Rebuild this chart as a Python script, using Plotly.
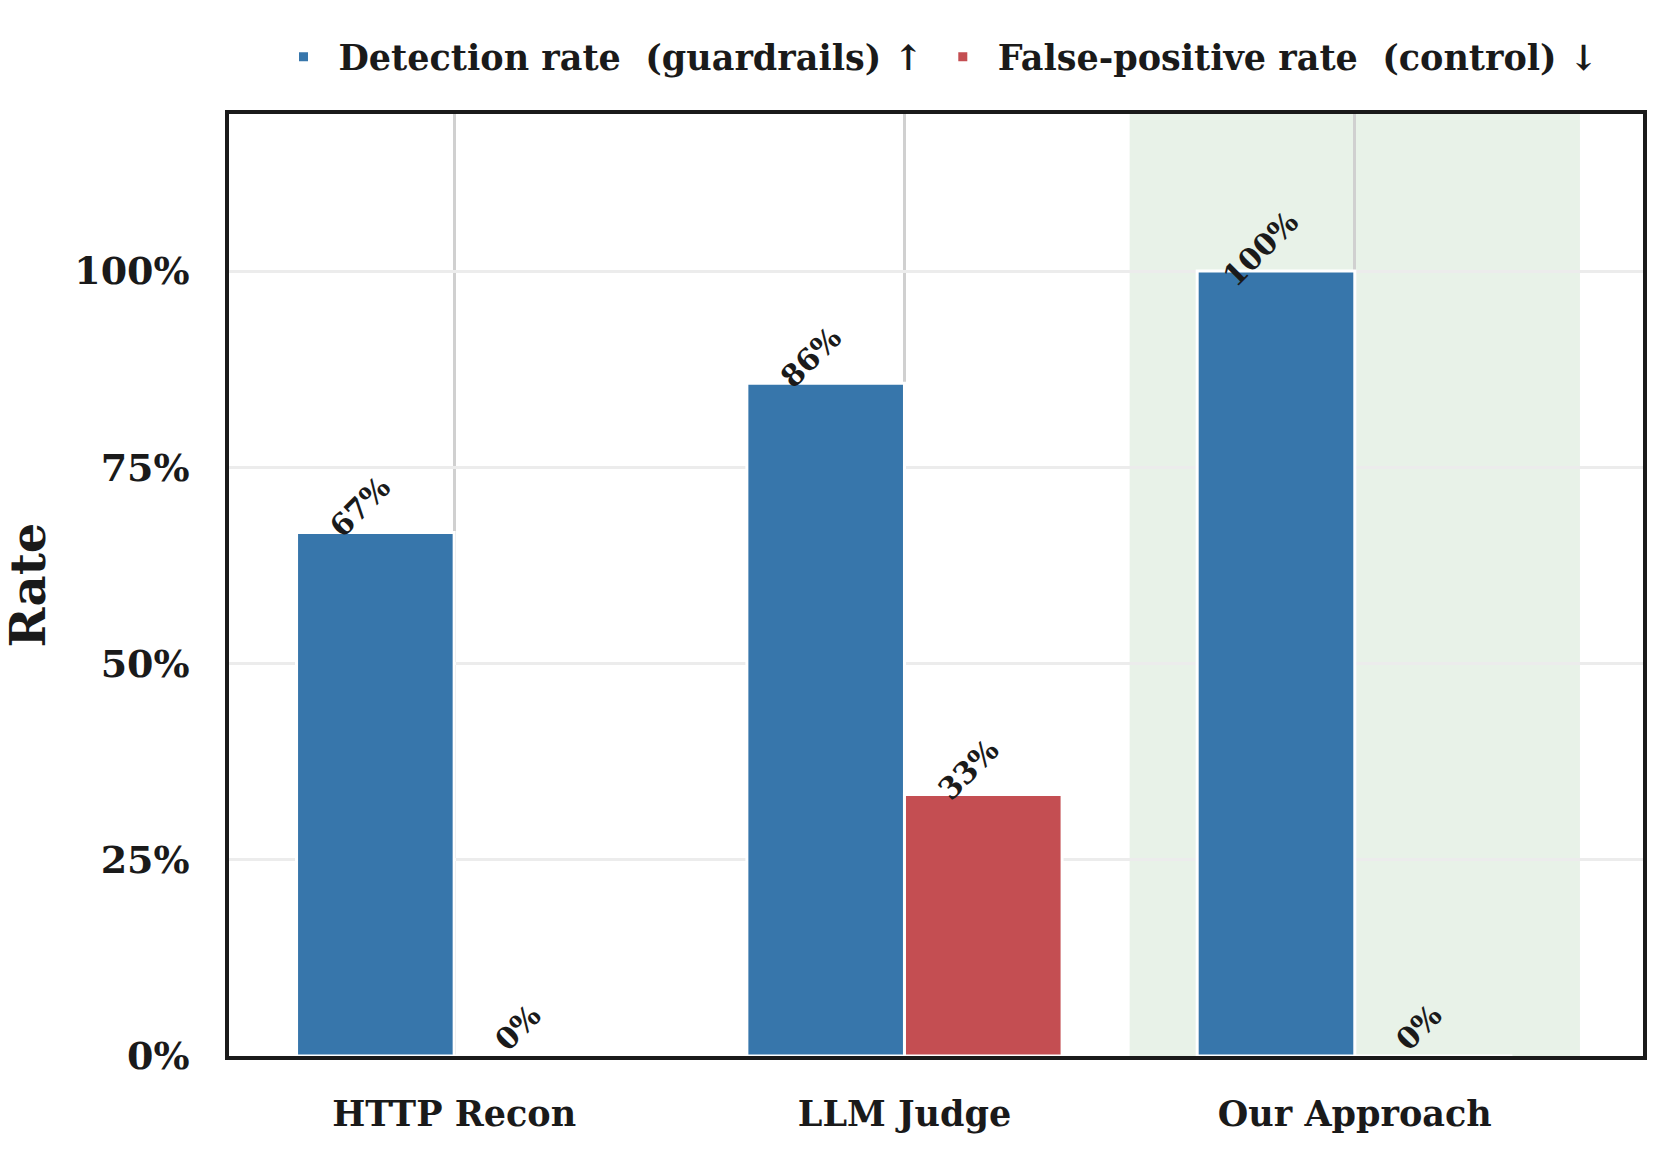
import plotly.graph_objects as go

categories = ["HTTP Recon", "LLM Judge", "Our Approach"]
detection_rate = [66.7, 85.7, 100.0]
false_positive_rate = [0.0, 33.3, 0.0]
y_ticks = [0, 25, 50, 75, 100]
y_tick_labels = ["0%", "25%", "50%", "75%", "100%"]
highlight_index = 2

BLUE = "#3776AB"
RED = "#C44E52"
SERIF = "DejaVu Serif"

x_idx = list(range(len(categories)))
W = 0.35

fig = go.Figure()
fig.add_trace(go.Bar(
    x=x_idx, y=detection_rate, name="Detection rate  (guardrails) ↑",
    marker=dict(color=BLUE, line=dict(color="white", width=3)),
))
fig.add_trace(go.Bar(
    x=x_idx, y=false_positive_rate, name="False-positive rate  (control) ↓",
    marker=dict(color=RED, line=dict(color="white", width=3)),
))

# highlight span
fig.add_shape(type="rect", xref="x", yref="paper",
              x0=highlight_index - 0.5, x1=highlight_index + 0.5, y0=0, y1=1,
              fillcolor="#e8f2e8", line=dict(width=0), layer="below")

annotations = []
for series, sign in ((detection_rate, -1), (false_positive_rate, 1)):
    for i, v in enumerate(series):
        txt = f"{v:.0f}%"
        annotations.append(dict(
            x=i + sign * W / 2, y=v, xref="x", yref="y",
            text=txt, showarrow=False, textangle=-45,
            xanchor="center", yanchor="bottom",
            xshift=-15, yshift=-4 - 10.5 * (len(txt) - 2),
            font=dict(family=SERIF, size=30, color="#1a1a1a", weight="bold"),
        ))

fig.update_layout(
    width=1673, height=1163,
    margin=dict(l=229, r=30, t=114, b=107),
    paper_bgcolor="white", plot_bgcolor="white",
    barmode="group", bargap=0.3, bargroupgap=0.0,
    annotations=annotations,
    showlegend=True,
    legend=dict(orientation="h", x=0.5, xanchor="center", y=1.0605, yanchor="middle",
                font=dict(family=SERIF, size=35, color="#1a1a1a", weight="bold"),
                bgcolor="rgba(0,0,0,0)", itemwidth=60),
    xaxis=dict(
        range=[-0.5, 2.64], tickvals=x_idx, ticktext=categories,
        showgrid=True, gridcolor="#d0d0d0", gridwidth=3,
        showline=True, linecolor="#1a1a1a", linewidth=3.5, mirror=True,
        ticks="", ticklabelstandoff=24, zeroline=False,
        tickfont=dict(family=SERIF, size=35, color="#1a1a1a", weight="bold"),
    ),
    yaxis=dict(
        range=[0, 120], tickvals=y_ticks, ticktext=y_tick_labels,
        showgrid=True, gridcolor="#ececec", gridwidth=3,
        showline=True, linecolor="#1a1a1a", linewidth=3.5, mirror=True,
        ticks="", ticklabelstandoff=28, zeroline=False,
        tickfont=dict(family=SERIF, size=38, color="#1a1a1a", weight="bold"),
        title=dict(text="Rate", standoff=30,
                   font=dict(family=SERIF, size=48, color="#1a1a1a", weight="bold")),
    ),
)

fig.write_html("out.html")
